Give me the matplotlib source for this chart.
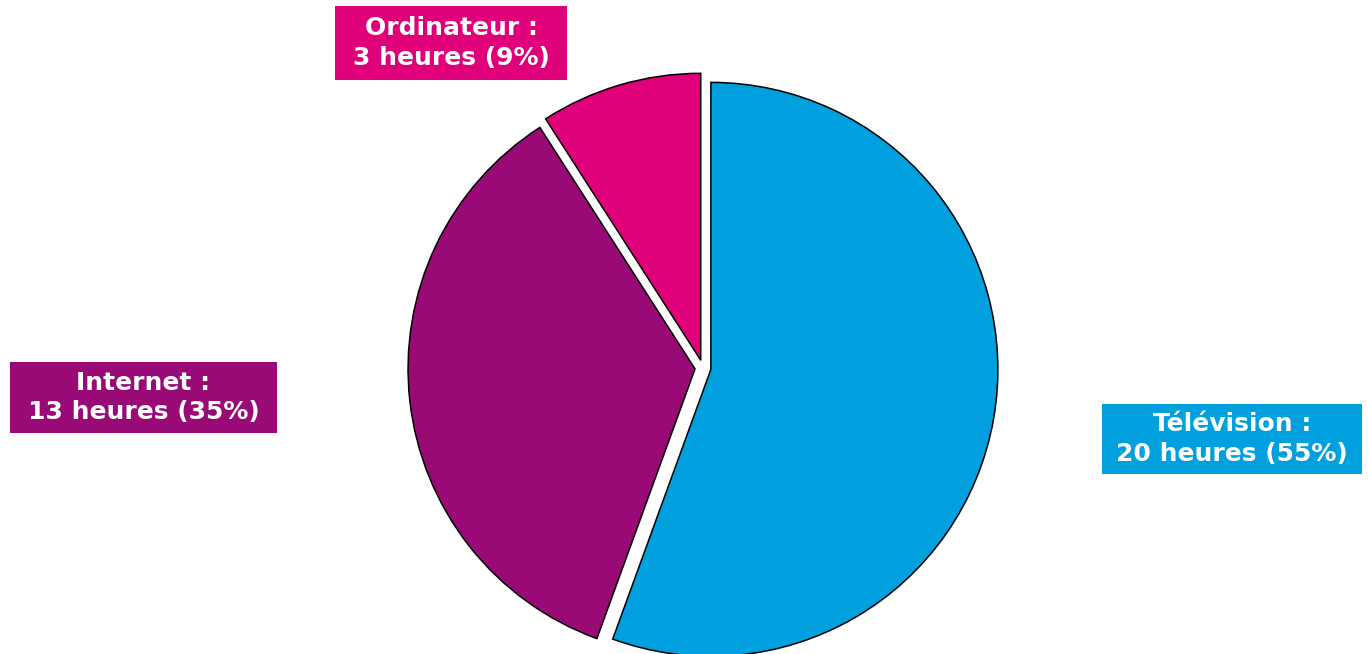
import matplotlib
matplotlib.use('Agg')
import matplotlib.pyplot as plt
from matplotlib.patches import Rectangle

# data
categories = ['Télévision', 'Internet', 'Ordinateur']
hours = [20, 13, 3]
percents = [55, 35, 9]
colors = ['#00A0DE', '#990A76', '#E0007A']

W, H = 1368, 654
fig = plt.figure(figsize=(W / 100, H / 100), dpi=100)
ax = fig.add_axes([0, 0, 1, 1])

# centre of the pie in pixel units (y up); explode is in data units here
cx, cy, r = 703, H - 368, 287
wedges, _ = ax.pie(percents, colors=colors, startangle=90, counterclock=False,
                   explode=[8, 8, 8], center=(cx, cy), radius=r,
                   wedgeprops=dict(edgecolor='black', linewidth=1.1))

ax.set_xlim(0, W)
ax.set_ylim(0, H)
ax.set_aspect('auto')
ax.axis('off')

# label boxes: (left, top, right, bottom) in pixels, y down
boxes = [(1102, 404, 1362, 474), (10, 362, 277, 433), (335, 6, 567, 80)]
for name, h, p, c, (x0, y0, x1, y1) in zip(categories, hours, percents, colors, boxes):
    ax.add_patch(Rectangle((x0, H - y1), x1 - x0, y1 - y0, facecolor=c,
                           edgecolor='none'))
    ax.text((x0 + x1) / 2, H - (y0 + y1) / 2, f'{name} :\n{h} heures ({p}%)',
            ha='center', va='center', color='white', fontsize=18,
            fontweight='bold', linespacing=1.3, family='DejaVu Sans')

fig.savefig('out.png', dpi=100)
